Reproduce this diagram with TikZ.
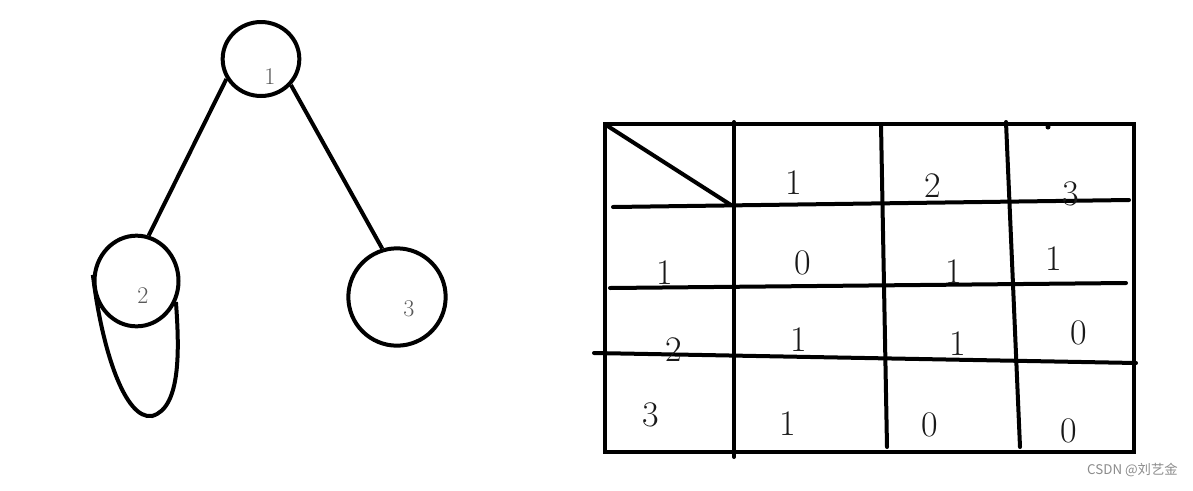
\documentclass[tikz,border=0pt]{standalone}
\usepackage{fontspec}
\newfontfamily\cjkfont{Noto Sans CJK SC}
\usetikzlibrary{shapes.geometric}

\begin{document}
\begin{tikzpicture}[x=0.75pt, y=-0.75pt,
        vertex/.style={draw, ellipse, line width=3pt, inner sep=0pt},
        vnum/.style={inner sep=0pt, text=black!65, font=\fontsize{18}{18}\selectfont},
        cell/.style={inner sep=0pt, text=black!90, font=\fontsize{27}{27}\selectfont},
        edge/.style={line width=3pt},
        grid/.style={line width=3pt, line cap=round}
    ]
    \useasboundingbox (0,0) rectangle (1193,490);
    \fill[white] (0,0) rectangle (1193,490);

    % --- Graph: vertices ---
    \node[vertex, minimum width=57.5pt, minimum height=55.5pt] (v1) at (261,59) {};
    \node[vertex, minimum width=63pt, minimum height=68pt] (v2) at (136.5,281) {};
    \node[vertex, minimum width=73pt, minimum height=73pt] (v3) at (397,297) {};
    \node[vnum] (n1) at (270,77) {1};
    \node[vnum] (n2) at (143,296) {2};
    \node[vnum] (n3) at (409,309) {3};

    % --- Graph: edges ---
    \draw[edge] (v1.210) -- (v2.75);
    \draw[edge] (v1.319) -- (v3.107);
    \draw[edge] (v2.172) .. controls (102,350) and (125,420) .. (152,416)
        .. controls (182,408) and (179,345) .. (v2.-28);

    % --- Table: frame and rules ---
    \draw[grid] (605,124) rectangle (1134,452);
    \draw[grid] (734,122) -- (734,457);
    \draw[grid] (881,124) -- (887,447);
    \draw[grid] (1006,122) -- (1020,447);
    \draw[grid] (613,207) -- (1129,200);
    \draw[grid] (610,288) -- (1126,283);
    \draw[grid] (594,353) -- (1136,363);
    \draw[grid] (606,125) -- (731,205);
    \fill (1048,127) circle (2.5);

    % --- Table: header row ---
    \node[cell] (h1) at (794,183) {1};
    \node[cell] (h2) at (933,186) {2};
    \node[cell] (h3) at (1071,194) {3};

    % --- Table: rows ---
    \node[cell] (r1) at (665,273) {1};
    \node[cell] (c11) at (803,263) {0};
    \node[cell] (c12) at (954,272) {1};
    \node[cell] (c13) at (1054,259) {1};

    \node[cell] (r2) at (674,350) {2};
    \node[cell] (c21) at (799,340) {1};
    \node[cell] (c22) at (958,344) {1};
    \node[cell] (c23) at (1079,333) {0};

    \node[cell] (r3) at (651,415) {3};
    \node[cell] (c31) at (788,424) {1};
    \node[cell] (c32) at (930,425) {0};
    \node[cell] (c33) at (1069,431) {0};

    % --- watermark ---
    \node[anchor=east, inner sep=0pt, text=black!45, font=\cjkfont\fontsize{10}{10}\selectfont] (mark) at (1178,470) {CSDN @刘艺金};

\end{tikzpicture}
\end{document}
